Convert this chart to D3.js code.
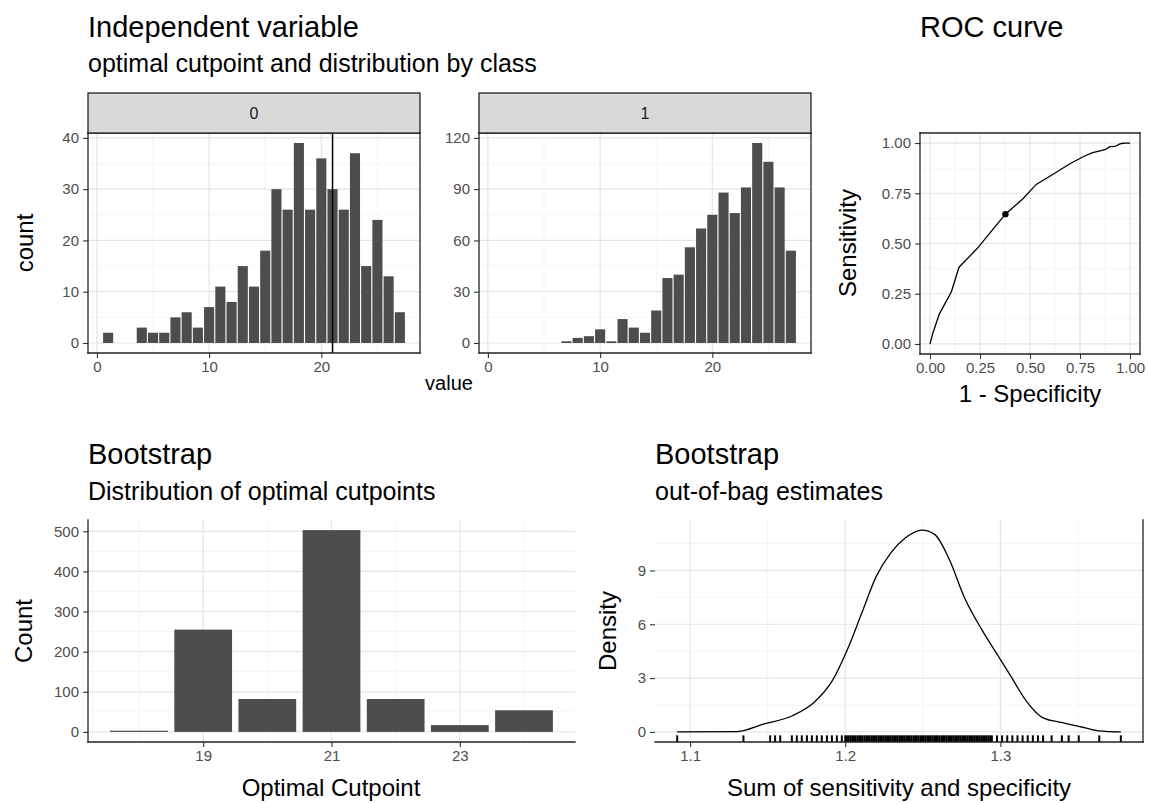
<!DOCTYPE html>
<html>
<head>
<meta charset="utf-8">
<script src="https://cdnjs.cloudflare.com/ajax/libs/d3/7.8.5/d3.min.js"></script>
<style>
  body { margin: 0; background: #fff; }
  text { font-family: "Liberation Sans", Arial, Helvetica, sans-serif; }
</style>
</head>
<body>
<div id="chart"></div>
<script>
// histogram of the independent variable, one facet per class
var class0Values = [1, 4, 5, 6, 7, 8, 9, 10, 11, 12, 13, 14, 15, 16, 17, 18, 19, 20, 21, 22, 23, 24, 25, 26, 27];
var class0Counts = [2, 3, 2, 2, 5, 6, 3, 7, 11, 8, 15, 11, 18, 30, 26, 39, 26, 36, 30, 26, 37, 15, 24, 13, 6];
var class1Values = [7, 8, 9, 10, 11, 12, 13, 14, 15, 16, 17, 18, 19, 20, 21, 22, 23, 24, 25, 26, 27];
var class1Counts = [1, 3, 4, 8, 1, 14, 9, 6, 19, 38, 40, 56, 67, 75, 88, 76, 91, 117, 106, 91, 54];
var optimalCutpoint = 21;

// ROC curve
var rocFpr = [0, 0.015, 0.047, 0.107, 0.145, 0.237, 0.302, 0.377, 0.466, 0.531, 0.628, 0.693, 0.768, 0.813, 0.840, 0.878, 0.898, 0.925, 0.943, 0.950, 0.965, 0.978, 0.983, 0.988, 0.995, 1];
var rocTpr = [0, 0.056, 0.150, 0.260, 0.382, 0.476, 0.555, 0.646, 0.724, 0.794, 0.852, 0.893, 0.933, 0.952, 0.959, 0.968, 0.982, 0.983, 0.992, 0.996, 0.999, 1, 1, 1, 1, 1];
var optFpr = 0.377, optTpr = 0.646;

// bootstrap: distribution of optimal cutpoints
var bootCutpoints = [18, 19, 20, 21, 22, 23, 24];
var bootCounts = [3, 255, 82, 503, 82, 17, 54];

// bootstrap: out-of-bag sum of sensitivity and specificity
var densityX = [1.0917, 1.1306, 1.1471, 1.166, 1.18, 1.1918, 1.2012, 1.2106, 1.22, 1.2294, 1.2388, 1.2494, 1.2576, 1.2671, 1.2765, 1.2882, 1.2976, 1.3071, 1.3165, 1.3271, 1.34, 1.3541, 1.3635, 1.3776];
var densityY = [0, 0.02, 0.43, 0.9, 1.65, 2.87, 4.55, 6.61, 8.67, 9.98, 10.82, 11.25, 11.01, 9.61, 7.55, 5.67, 4.36, 3.05, 1.74, 0.8, 0.52, 0.24, 0.06, 0];
var rugValues = [1.0917, 1.1344, 1.1516, 1.1548, 1.1581, 1.1656, 1.1688, 1.1720, 1.1753, 1.1785, 1.1817, 1.1849, 1.1882, 1.1914, 1.1946, 1.1978,
  1.2000, 1.2011, 1.2022, 1.2034, 1.2045, 1.2056, 1.2067, 1.2079, 1.2090, 1.2101, 1.2112, 1.2124, 1.2135, 1.2146, 1.2157, 1.2169,
  1.2180, 1.2191, 1.2202, 1.2214, 1.2225, 1.2236, 1.2247, 1.2259, 1.2270, 1.2281, 1.2292, 1.2304, 1.2315, 1.2326, 1.2337, 1.2349,
  1.2360, 1.2371, 1.2382, 1.2394, 1.2405, 1.2416, 1.2427, 1.2439, 1.2450, 1.2461, 1.2472, 1.2484, 1.2495, 1.2506, 1.2517, 1.2529,
  1.2540, 1.2551, 1.2562, 1.2574, 1.2585, 1.2596, 1.2607, 1.2619, 1.2630, 1.2641, 1.2652, 1.2664, 1.2675, 1.2686, 1.2697, 1.2709,
  1.2720, 1.2731, 1.2742, 1.2754, 1.2765, 1.2776, 1.2787, 1.2799, 1.2810, 1.2821, 1.2832, 1.2844, 1.2855, 1.2866, 1.2877, 1.2889,
  1.2900, 1.2911, 1.2922, 1.2934,
  1.2945, 1.2978, 1.3011, 1.3044, 1.3077, 1.3110, 1.3143, 1.3176, 1.3209, 1.3242, 1.3275, 1.3330, 1.3396, 1.3440, 1.3505, 1.3637, 1.3776];

// tick labels
var histXTicks = [0, 10, 20], histXMinor = [5, 15, 25];
var class0YTicks = [0, 10, 20, 30, 40], class0YMinor = [5, 15, 25, 35];
var class1YTicks = [0, 30, 60, 90, 120], class1YMinor = [15, 45, 75, 105];
var rocTicks = [0, 0.25, 0.5, 0.75, 1], rocMinor = [0.125, 0.375, 0.625, 0.875];
var bootXTicks = [19, 21, 23], bootXMinor = [18, 20, 22, 24];
var bootYTicks = [0, 100, 200, 300, 400, 500], bootYMinor = [50, 150, 250, 350, 450];
var densXTicks = [1.1, 1.2, 1.3], densXMinor = [1.15, 1.25, 1.35];
var densYTicks = [0, 3, 6, 9], densYMinor = [1.5, 4.5, 7.5, 10.5];

var svg = d3.select("#chart")
    .append("svg")
    .attr("width", 1150)
    .attr("height", 803)
    .style("background", "#fff");

var tickFont = 15, titleFont = 29, subFont = 25, axisFont = 24;

function expand(lo, hi) {
  var d = (hi - lo) * 0.05;
  return [lo - d, hi + d];
}

function panel(o) {
  var x = d3.scaleLinear().domain(o.xDomain).range([o.left, o.right]);
  var y = d3.scaleLinear().domain(o.yDomain).range([o.bottom, o.top]);
  var g = svg.append("g");

  function vlines(vals, color, w) {
    g.append("g").selectAll("line")
      .data(vals)
      .enter().append("line")
      .attr("x1", function(d) { return x(d) })
      .attr("x2", function(d) { return x(d) })
      .attr("y1", o.top)
      .attr("y2", o.bottom)
      .attr("stroke", color)
      .attr("stroke-width", w)
  }
  function hlines(vals, color, w) {
    g.append("g").selectAll("line")
      .data(vals)
      .enter().append("line")
      .attr("x1", o.left)
      .attr("x2", o.right)
      .attr("y1", function(d) { return y(d) })
      .attr("y2", function(d) { return y(d) })
      .attr("stroke", color)
      .attr("stroke-width", w)
  }
  vlines(o.xMinor, "#f2f2f2", 0.8)
  hlines(o.yMinor, "#f2f2f2", 0.8)
  vlines(o.xTicks, "#e5e5e5", 1.2)
  hlines(o.yTicks, "#e5e5e5", 1.2)

  var xAxis = g.append("g")
    .attr("transform", "translate(0," + o.bottom + ")")
    .call(d3.axisBottom(x).tickValues(o.xTicks).tickFormat(o.xFormat || null)
      .tickSize(5).tickPadding(3).tickSizeOuter(0))
  var yAxis = g.append("g")
    .attr("transform", "translate(" + o.left + ",0)")
    .call(d3.axisLeft(y).tickValues(o.yTicks).tickFormat(o.yFormat || null)
      .tickSize(5).tickPadding(4).tickSizeOuter(0))

  ;[xAxis, yAxis].forEach(function(a) {
    a.select(".domain").remove()
    a.attr("font-family", null).attr("font-size", tickFont)
    a.selectAll(".tick line").attr("stroke", "#333").attr("stroke-width", 1.1)
    a.selectAll(".tick text").attr("fill", "#4d4d4d")
  })

  var marks = g.append("g")
  return { g: g, marks: marks, x: x, y: y, o: o }
}

function border(p, sides) {
  var o = p.o
  var segs = {
    top: [o.left, o.top, o.right, o.top],
    bottom: [o.left, o.bottom, o.right, o.bottom],
    left: [o.left, o.top, o.left, o.bottom],
    right: [o.right, o.top, o.right, o.bottom]
  }
  sides.forEach(function(s) {
    var c = segs[s]
    p.g.append("line")
      .attr("x1", c[0]).attr("y1", c[1]).attr("x2", c[2]).attr("y2", c[3])
      .attr("stroke", "#222")
      .attr("stroke-width", 1.3)
      .attr("stroke-linecap", "square")
  })
}

function label(str, x, y, size, opts) {
  opts = opts || {}
  var t = svg.append("text")
    .text(str)
    .attr("font-size", size)
    .attr("fill", opts.fill || "#000")
    .attr("text-anchor", opts.anchor || "start")
  if (opts.rotate) {
    t.attr("transform", "translate(" + x + "," + y + ") rotate(-90)")
  } else {
    t.attr("x", x).attr("y", y)
  }
  return t
}

function bars(p, vals, counts, width, fill) {
  p.marks.selectAll("rect")
    .data(vals)
    .enter().append("rect")
    .attr("x", function(d) { return p.x(d - width / 2) })
    .attr("width", function(d) { return p.x(d + width / 2) - p.x(d - width / 2) })
    .attr("y", function(d, i) { return p.y(counts[i]) })
    .attr("height", function(d, i) { return p.y(0) - p.y(counts[i]) })
    .attr("fill", fill)
}

// ---------- Independent variable, two facets ----------
var histXDomain = expand(0.55, 27.45);
var facetTop = 133, facetBottom = 353, stripTop = 93;

var f0 = panel({
  left: 88, right: 420, top: facetTop, bottom: facetBottom,
  xDomain: histXDomain, yDomain: expand(0, d3.max(class0Counts)),
  xTicks: histXTicks, xMinor: histXMinor, yTicks: class0YTicks, yMinor: class0YMinor
})
bars(f0, class0Values, class0Counts, 0.9, "#4d4d4d")
f0.marks.append("line")
  .attr("x1", f0.x(optimalCutpoint)).attr("x2", f0.x(optimalCutpoint))
  .attr("y1", facetTop).attr("y2", facetBottom)
  .attr("stroke", "#000").attr("stroke-width", 1.5)
border(f0, ["top", "bottom", "left", "right"])

var f1 = panel({
  left: 479, right: 811, top: facetTop, bottom: facetBottom,
  xDomain: histXDomain, yDomain: expand(0, d3.max(class1Counts)),
  xTicks: histXTicks, xMinor: histXMinor, yTicks: class1YTicks, yMinor: class1YMinor
})
bars(f1, class1Values, class1Counts, 0.9, "#4d4d4d")
border(f1, ["top", "bottom", "left", "right"])

// strips
;[[f0, "0"], [f1, "1"]].forEach(function(s) {
  var o = s[0].o
  svg.append("rect")
    .attr("x", o.left).attr("y", stripTop)
    .attr("width", o.right - o.left).attr("height", facetTop - stripTop)
    .attr("fill", "#d9d9d9").attr("stroke", "#222").attr("stroke-width", 1.3)
  label(s[1], (o.left + o.right) / 2, (stripTop + facetTop) / 2 + 5.5, 16, { anchor: "middle", fill: "#1a1a1a" })
})

label("Independent variable", 88, 37, titleFont)
label("optimal cutpoint and distribution by class", 88, 72, subFont)
label("count", 33, (facetTop + facetBottom) / 2, axisFont, { rotate: true, anchor: "middle" })
label("value", 449, 390, 20, { anchor: "middle" })

// ---------- ROC curve ----------
var roc = panel({
  left: 920, right: 1140, top: 133, bottom: 354,
  xDomain: expand(0, 1), yDomain: expand(0, 1),
  xTicks: rocTicks, xMinor: rocMinor, yTicks: rocTicks, yMinor: rocMinor,
  xFormat: d3.format(".2f"), yFormat: d3.format(".2f")
})
var rocLine = d3.line()
  .x(function(d, i) { return roc.x(rocFpr[i]) })
  .y(function(d, i) { return roc.y(rocTpr[i]) })
roc.marks.append("path")
  .datum(rocFpr)
  .attr("d", rocLine)
  .attr("fill", "none")
  .attr("stroke", "#000")
  .attr("stroke-width", 1.3)
roc.marks.append("circle")
  .attr("cx", roc.x(optFpr))
  .attr("cy", roc.y(optTpr))
  .attr("r", 3.2)
  .attr("fill", "#000")
border(roc, ["top", "bottom", "left", "right"])

label("ROC curve", 920, 37, titleFont)
label("1 - Specificity", 1030, 402, axisFont, { anchor: "middle" })
label("Sensitivity", 856, 243, axisFont, { rotate: true, anchor: "middle" })

// ---------- Bootstrap: optimal cutpoints ----------
var boot = panel({
  left: 88, right: 575, top: 520, bottom: 742,
  xDomain: expand(18 - 0.45, 24 + 0.45), yDomain: expand(0, d3.max(bootCounts)),
  xTicks: bootXTicks, xMinor: bootXMinor, yTicks: bootYTicks, yMinor: bootYMinor
})
bars(boot, bootCutpoints, bootCounts, 0.9, "#4d4d4d")
border(boot, ["left", "bottom"])

label("Bootstrap", 88, 464, titleFont)
label("Distribution of optimal cutpoints", 88, 500, subFont)
label("Count", 32, 631, axisFont, { rotate: true, anchor: "middle" })
label("Optimal Cutpoint", 331, 796, axisFont, { anchor: "middle" })

// ---------- Bootstrap: out-of-bag density ----------
var dens = panel({
  left: 655, right: 1143, top: 520, bottom: 742,
  xDomain: expand(d3.min(rugValues), d3.max(rugValues)), yDomain: expand(0, d3.max(densityY)),
  xTicks: densXTicks, xMinor: densXMinor, yTicks: densYTicks, yMinor: densYMinor,
  xFormat: d3.format(".1f"), yFormat: d3.format("d")
})
var densLine = d3.line()
  .x(function(d, i) { return dens.x(densityX[i]) })
  .y(function(d, i) { return dens.y(densityY[i]) })
  .curve(d3.curveMonotoneX)
dens.marks.append("path")
  .datum(densityX)
  .attr("d", densLine)
  .attr("fill", "none")
  .attr("stroke", "#000")
  .attr("stroke-width", 1.3)
var rugLen = (742 - 520) * 0.03
dens.marks.selectAll(".rug")
  .data(rugValues)
  .enter().append("line")
  .attr("class", "rug")
  .attr("x1", function(d) { return dens.x(d) })
  .attr("x2", function(d) { return dens.x(d) })
  .attr("y1", 742)
  .attr("y2", 742 - rugLen)
  .attr("stroke", "#000")
  .attr("stroke-width", 2)
border(dens, ["bottom", "right"])

label("Bootstrap", 655, 464, titleFont)
label("out-of-bag estimates", 655, 500, subFont)
label("Density", 616, 631, axisFont, { rotate: true, anchor: "middle" })
label("Sum of sensitivity and specificity", 899, 796, axisFont, { anchor: "middle" })
</script>
</body>
</html>
